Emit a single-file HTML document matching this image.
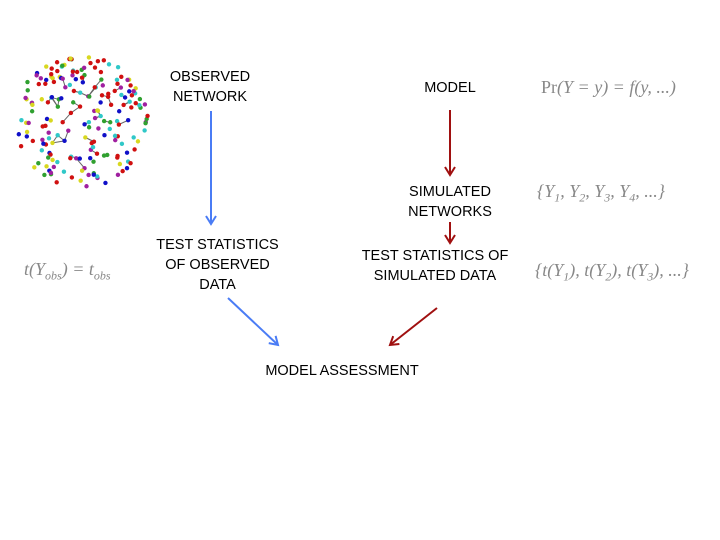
<!DOCTYPE html>
<html><head><style>
body{margin:0;width:720px;height:540px;background:#fff;position:relative;overflow:hidden;font-family:"Liberation Sans",sans-serif;}
.t{position:absolute;font-size:14.5px;color:#000;text-align:center;line-height:20px;white-space:nowrap}
.m{position:absolute;font-family:"Liberation Serif",serif;color:#888;font-size:18px;white-space:nowrap;font-style:italic}
.m sub{font-size:12px}
</style></head><body>
<svg width="720" height="540" style="position:absolute;left:0;top:0">
<defs>
<marker id="ab" markerWidth="12" markerHeight="12" refX="9" refY="6" orient="auto" markerUnits="userSpaceOnUse"><path d="M1,1 L9,6 L1,11" fill="none" stroke="#4a7cf5" stroke-width="2"/></marker>
<marker id="ar" markerWidth="12" markerHeight="12" refX="9" refY="6" orient="auto" markerUnits="userSpaceOnUse"><path d="M1,1 L9,6 L1,11" fill="none" stroke="#a01010" stroke-width="2"/></marker>
</defs>
<g id="g"></g>
<line x1="211" y1="111" x2="211" y2="224" stroke="#4a7cf5" stroke-width="2" marker-end="url(#ab)"/>
<line x1="228" y1="298" x2="278" y2="345" stroke="#4a7cf5" stroke-width="2" marker-end="url(#ab)"/>
<line x1="450" y1="110" x2="450" y2="175" stroke="#a01010" stroke-width="2" marker-end="url(#ar)"/>
<line x1="450" y1="222" x2="450" y2="243" stroke="#a01010" stroke-width="2" marker-end="url(#ar)"/>
<line x1="437" y1="308" x2="390" y2="345" stroke="#a01010" stroke-width="2" marker-end="url(#ar)"/>
</svg>
<div class="t" style="left:160px;top:67px;width:100px">OBSERVED<br>NETWORK</div>
<div class="t" style="left:400px;top:78px;width:100px">MODEL</div>
<div class="t" style="left:380px;top:182px;width:140px">SIMULATED<br>NETWORKS</div>
<div class="t" style="left:135px;top:235px;width:165px">TEST STATISTICS<br>OF OBSERVED<br>DATA</div>
<div class="t" style="left:350px;top:246px;width:170px">TEST STATISTICS OF<br>SIMULATED DATA</div>
<div class="t" style="left:232px;top:361px;width:220px">MODEL ASSESSMENT</div>
<div class="m" style="left:541px;top:77px"><span style="font-style:normal">Pr</span>(<i>Y</i> = <i>y</i>) = <i>f</i>(<i>y</i>, ...)</div>
<div class="m" style="left:537px;top:181px">{<i>Y</i><sub>1</sub>, <i>Y</i><sub>2</sub>, <i>Y</i><sub>3</sub>, <i>Y</i><sub>4</sub>, ...}</div>
<div class="m" style="left:24px;top:259px"><i>t</i>(<i>Y<sub>obs</sub></i>) = <i>t<sub>obs</sub></i></div>
<div class="m" style="left:535px;top:260px">{<i>t</i>(<i>Y</i><sub>1</sub>), <i>t</i>(<i>Y</i><sub>2</sub>), <i>t</i>(<i>Y</i><sub>3</sub>), ...}</div>
<script>
(function(){
var s=7;function r(){s=(s*16807)%2147483647;return s/2147483647;}
var cols=["#d01010","#1010c8","#30a030","#30c8c8","#a020a0","#d8d820","#d01010"];
var pts=[],h="";
for(var i=0;i<200;i++){var a=r()*6.283,d=Math.pow(r(),0.4)*68;pts.push([80+Math.cos(a)*d,122+Math.sin(a)*d*0.98]);}
for(var i=0;i<150;i++){var k=Math.floor(r()*200),p=pts[k];var dc=Math.hypot(p[0]-85,p[1]-120);if(dc>45)continue;var best=null,bd=1e9;for(var j=0;j<200;j++){var q=pts[j],dd=(p[0]-q[0])**2+(p[1]-q[1])**2;if(dd>1&&dd<bd&&r()>0.35){bd=dd;best=q;}}if(best&&bd<600)h+='<line x1="'+p[0]+'" y1="'+p[1]+'" x2="'+best[0]+'" y2="'+best[1]+'" stroke="#666" stroke-width="1"/>';}
pts.forEach(function(p){h+='<circle cx="'+p[0]+'" cy="'+p[1]+'" r="2.2" fill="'+cols[Math.floor(r()*7)]+'"/>';});
document.getElementById("g").innerHTML=h;})();
</script>
</body></html>
